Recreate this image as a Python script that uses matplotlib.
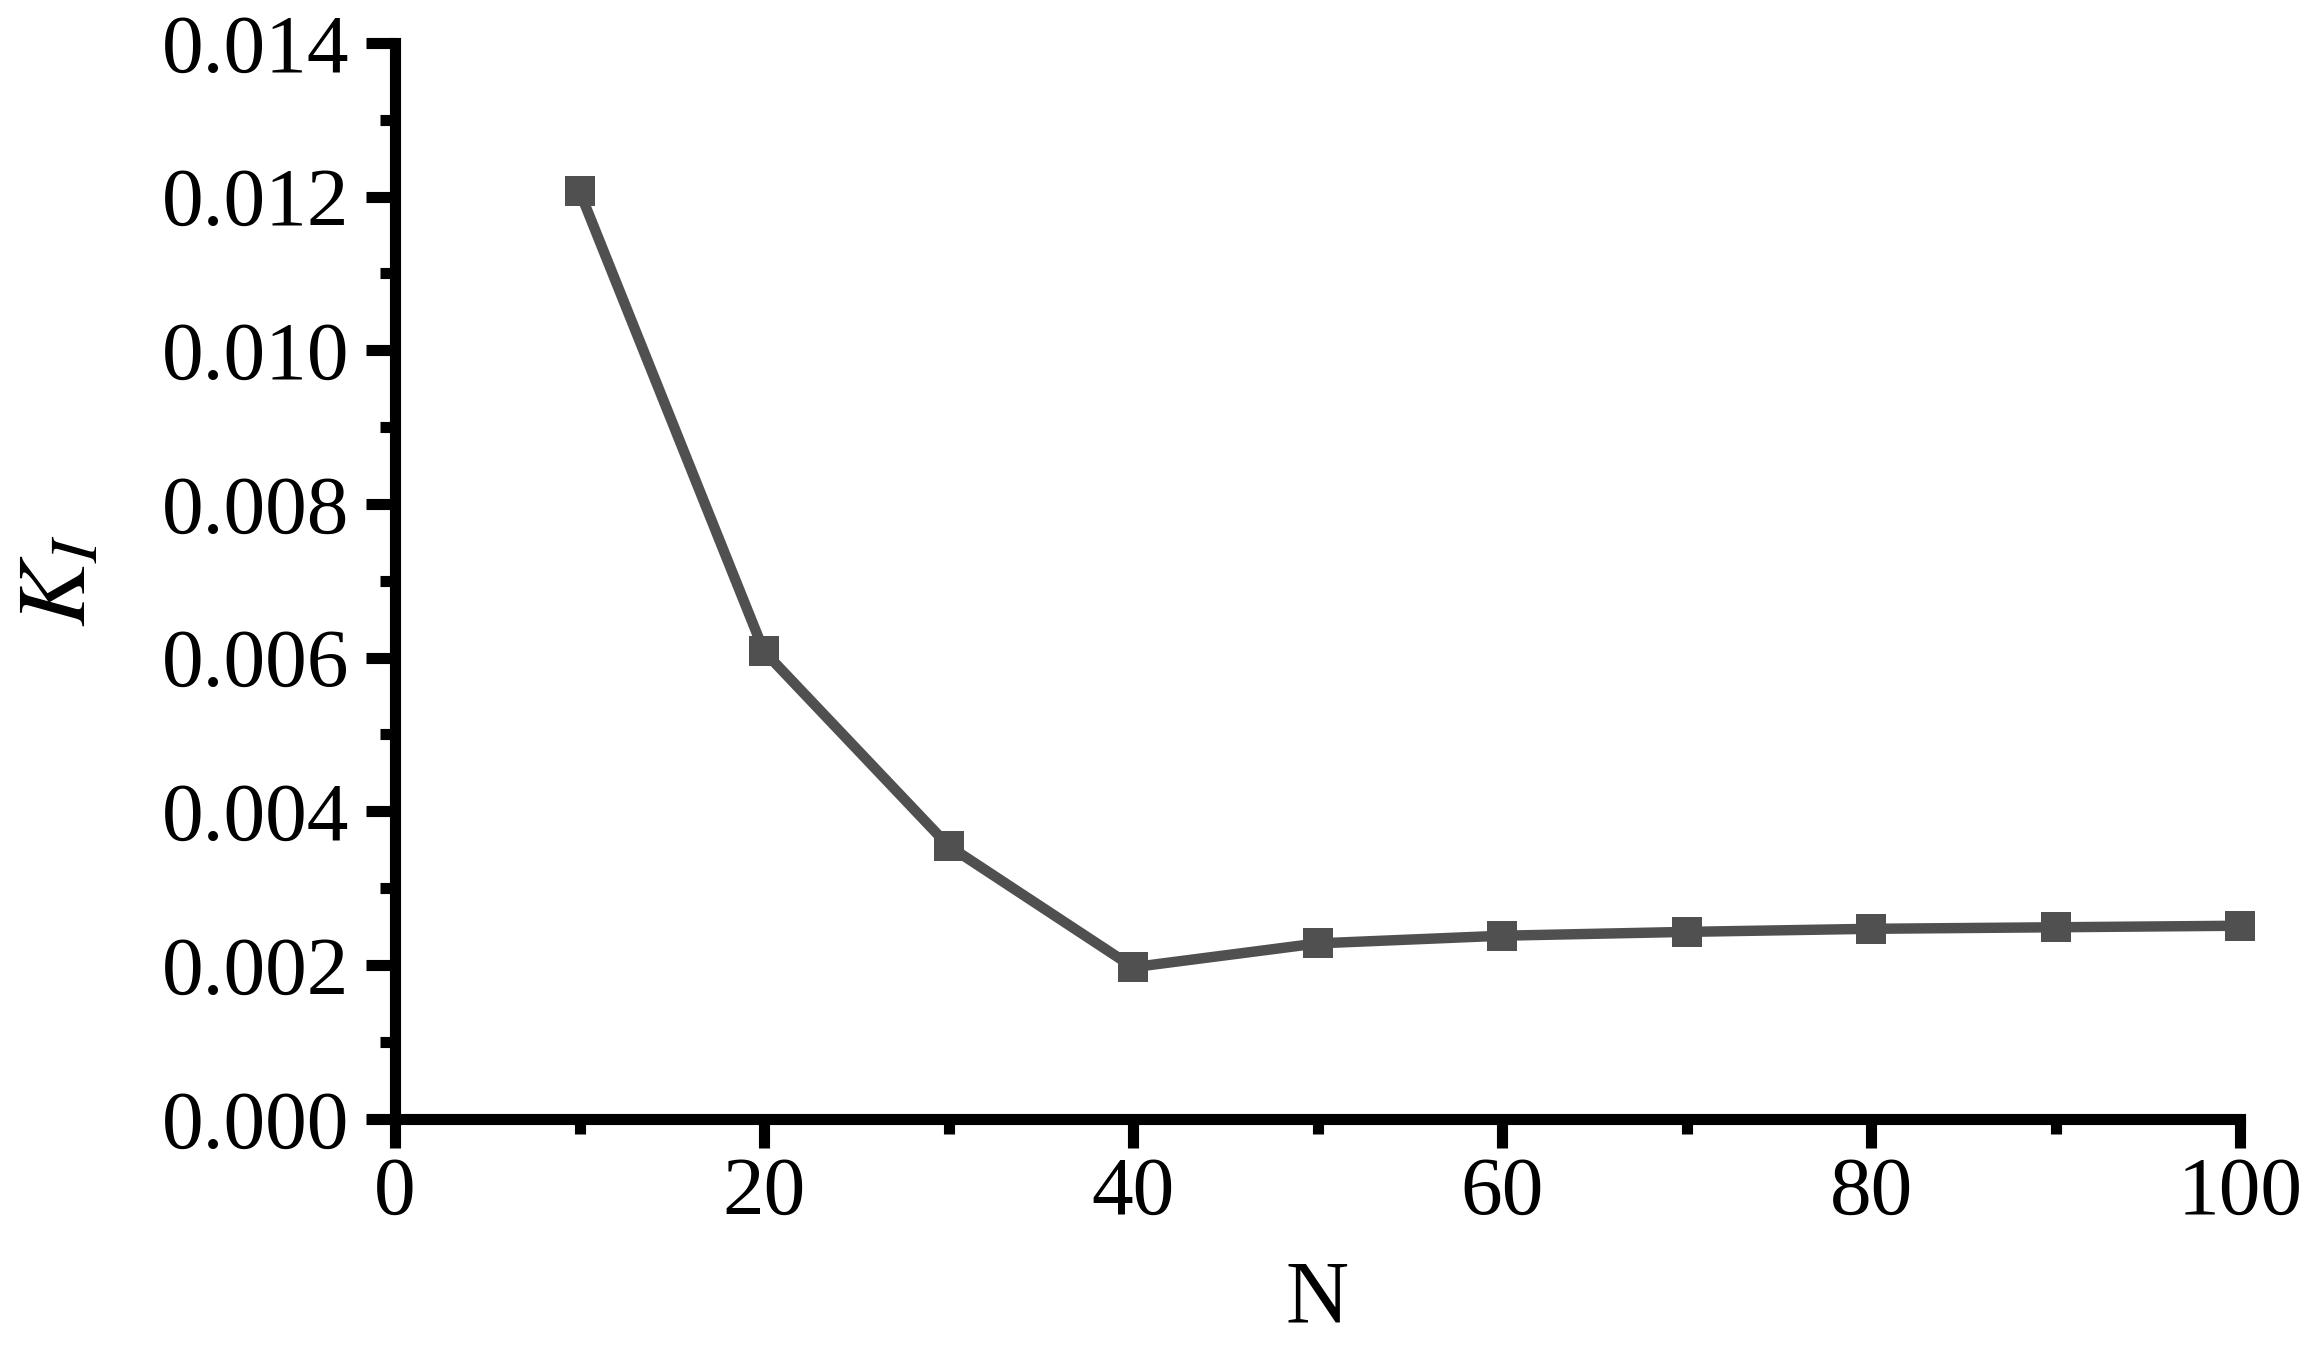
#!/usr/bin/env python3
"""
Plot K_I against N (convergence with number of elements).
Saves out.png
"""

import matplotlib
matplotlib.use("Agg")
import matplotlib.pyplot as plt
from matplotlib.ticker import MultipleLocator, FormatStrFormatter

# data
n_values = [10, 20, 30, 40, 50, 60, 70, 80, 90, 100]
k_values = [0.01207, 0.00608, 0.00355, 0.00197, 0.00228, 0.00238,
            0.00243, 0.00247, 0.00249, 0.00251]

x_label = "N"
y_label = r"$K_I$"

LINE_COLOR = "#505050"


def main():
    plt.rcParams["font.family"] = ["Liberation Serif", "DejaVu Serif"]
    plt.rcParams["mathtext.fontset"] = "stix"

    fig = plt.figure(figsize=(23.17, 13.6), dpi=100)
    ax = fig.add_axes([0.1705, 0.1775, 0.7963, 0.7910])

    ax.plot(n_values, k_values, color=LINE_COLOR, linewidth=7.5,
            marker="s", markersize=21, markeredgewidth=0, clip_on=False)

    ax.set_xlim(0, 100)
    ax.set_ylim(0, 0.014)

    # axis ticks
    ax.xaxis.set_major_locator(MultipleLocator(20))
    ax.xaxis.set_minor_locator(MultipleLocator(10))
    ax.yaxis.set_major_locator(MultipleLocator(0.002))
    ax.yaxis.set_minor_locator(MultipleLocator(0.001))
    ax.yaxis.set_major_formatter(FormatStrFormatter("%.3f"))

    ax.tick_params(which="major", direction="out", length=21, width=8,
                   labelsize=60, colors="black")
    ax.tick_params(which="minor", direction="out", length=11, width=8)
    ax.tick_params(axis="x", which="major", pad=6)
    ax.tick_params(axis="y", which="major", pad=12)

    for side in ["top", "right"]:
        ax.spines[side].set_visible(False)
    for side in ["left", "bottom"]:
        ax.spines[side].set_linewidth(8)
        ax.spines[side].set_color("black")

    ax.set_xlabel(x_label, fontsize=63, labelpad=20)
    ax.set_ylabel(y_label, fontsize=70, labelpad=40)

    fig.savefig("out.png", dpi=100)
    plt.close(fig)


if __name__ == "__main__":
    main()
